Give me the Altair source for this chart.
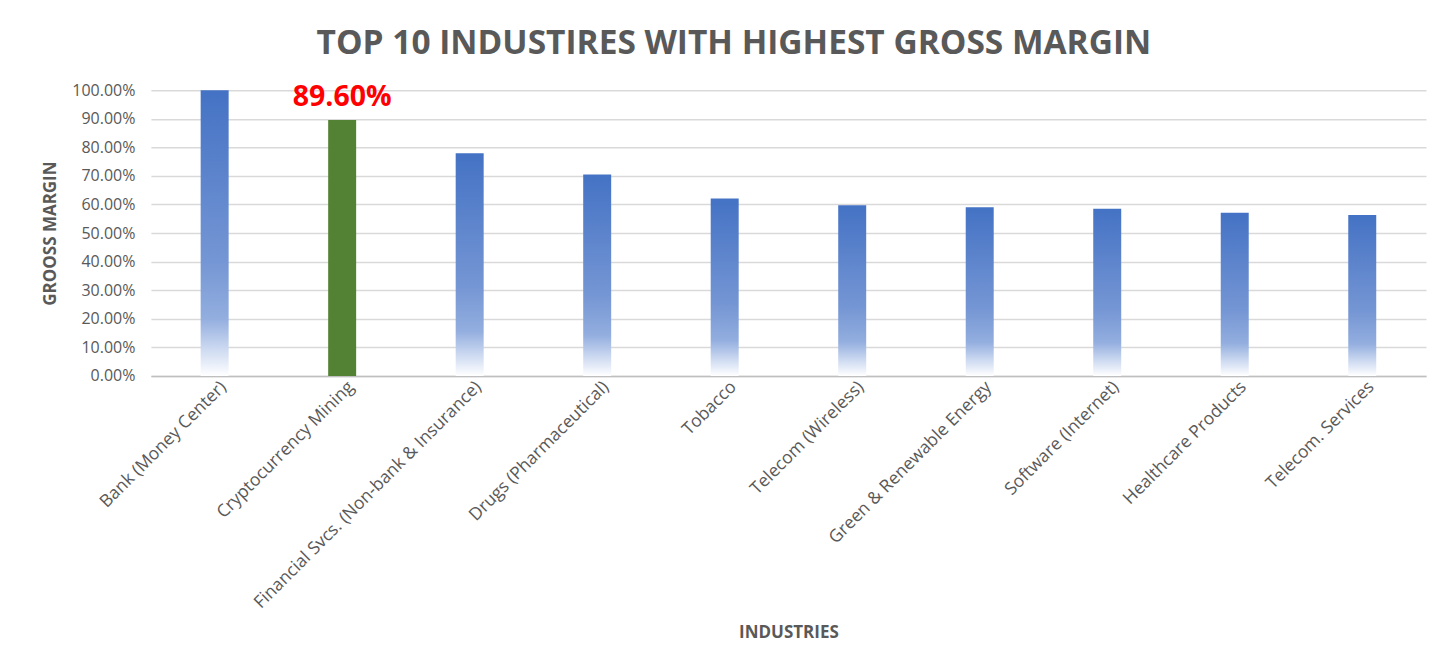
import altair as alt
import pandas as pd

industries = [
    "Bank (Money Center)",
    "Cryptocurrency Mining",
    "Financial Svcs. (Non-bank & Insurance)",
    "Drugs (Pharmaceutical)",
    "Tobacco",
    "Telecom (Wireless)",
    "Green & Renewable Energy",
    "Software (Internet)",
    "Healthcare Products",
    "Telecom. Services",
]
gross_margin = [1.000, 0.896, 0.779, 0.705, 0.621, 0.597, 0.590, 0.585, 0.571, 0.563]
highlight = "Cryptocurrency Mining"

df = pd.DataFrame({"industry": industries, "margin": gross_margin})

FONT = "Open Sans"
GRAY = "#595959"

x_enc = alt.X(
    "industry:N",
    sort=industries,
    title="INDUSTRIES",
    scale=alt.Scale(paddingInner=0.78, paddingOuter=0.39),
    axis=alt.Axis(
        labelAngle=-45,
        labelAlign="right",
        labelBaseline="middle",
        labelFont=FONT,
        labelFontSize=17.5,
        labelColor=GRAY,
        labelPadding=8,
        labelOffset=9,
        labelLimit=500,
        ticks=False,
        domain=True,
        domainColor="#bfbfbf",
        domainWidth=1.5,
        titleFont=FONT,
        titleFontSize=17,
        titleFontWeight="bold",
        titleColor=GRAY,
        titlePadding=49,
    ),
)
y_enc = alt.Y(
    "margin:Q",
    title="GROOSS MARGIN",
    scale=alt.Scale(domain=[0, 1], nice=False),
    axis=alt.Axis(
        format=".2%",
        values=[i / 10 for i in range(11)],
        labelFont=FONT,
        labelFontSize=16,
        labelColor=GRAY,
        labelPadding=16,
        ticks=False,
        tickSize=0,
        domain=False,
        grid=True,
        gridColor="#d9d9d9",
        gridWidth=1.5,
        titleFont=FONT,
        titleFontSize=17,
        titleFontWeight="bold",
        titleColor=GRAY,
        titlePadding=12,
    ),
)

base = alt.Chart(df).encode(x=x_enc, y=y_enc)

gradient = alt.Gradient(
    gradient="linear",
    x1=0, y1=0, x2=0, y2=1,
    stops=[
        alt.GradientStop(color="#4472C4", offset=0),
        alt.GradientStop(color="#7596D4", offset=0.6),
        alt.GradientStop(color="#93AEDF", offset=0.8),
        alt.GradientStop(color="#d4dff3", offset=0.92),
        alt.GradientStop(color="#ffffff", offset=1),
    ],
)

blue_bars = base.transform_filter(alt.datum.industry != highlight).mark_bar(
    size=28, color=gradient
)
green_bar = base.transform_filter(alt.datum.industry == highlight).mark_bar(
    size=28, color="#548235"
)
label = base.transform_filter(alt.datum.industry == highlight).mark_text(
    font=FONT, fontSize=28.5, fontWeight="bold", color="#ff0000",
    baseline="bottom", dy=-8,
).encode(text=alt.Text("margin:Q", format=".2%"))

chart = alt.layer(blue_bars, green_bar, label).properties(
    width=1276,
    height=286,
    background="white",
    padding={"left": 33, "top": 18, "right": 5, "bottom": 5},
    title=alt.TitleParams(
        "TOP 10 INDUSTIRES WITH HIGHEST GROSS MARGIN",
        font=FONT,
        fontSize=33.5,
        fontWeight="bold",
        color=GRAY,
        anchor="middle",
        frame="bounds",
        offset=21,
    ),
).configure_view(stroke=None)

chart.save("out.html", embed_options={"renderer": "svg", "actions": False})
